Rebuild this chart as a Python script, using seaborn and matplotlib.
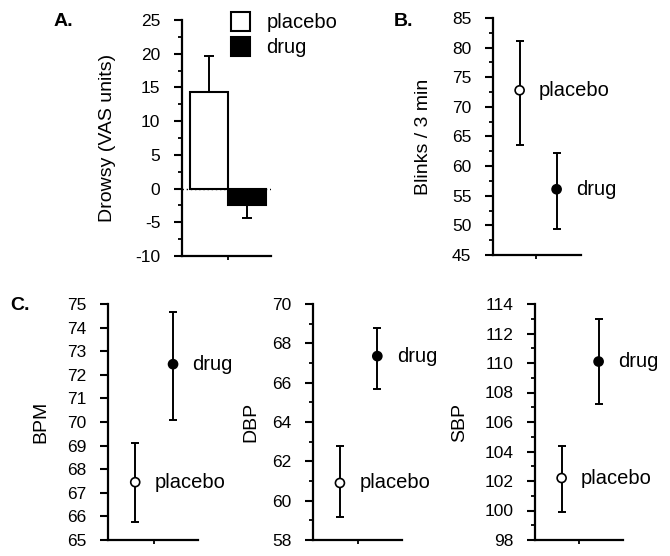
import numpy as np
import pandas as pd
import matplotlib
matplotlib.use('Agg')
import matplotlib.pyplot as plt
import seaborn as sns
from matplotlib.ticker import MultipleLocator

# data
groups = ['placebo', 'drug']
drowsy_mean = [14.3, -2.5]
drowsy_err_up = [5.4, 0.0]
drowsy_err_down = [0.0, 1.9]

blinks_mean = [72.8, 56.1]
blinks_lo = [63.6, 49.4]
blinks_hi = [81.2, 62.2]

bpm_mean = [67.45, 72.45]
bpm_lo = [65.75, 70.1]
bpm_hi = [69.1, 74.65]

dbp_mean = [60.9, 67.35]
dbp_lo = [59.15, 65.7]
dbp_hi = [62.8, 68.8]

sbp_mean = [102.2, 110.1]
sbp_lo = [99.9, 107.2]
sbp_hi = [104.4, 113.0]

W, H = 670, 556
sns.set_style('ticks')
plt.rcParams['font.family'] = ['Liberation Sans', 'DejaVu Sans']
plt.rcParams['axes.linewidth'] = 1.6
plt.rcParams['axes.edgecolor'] = 'black'
plt.rcParams['text.color'] = 'black'
plt.rcParams['axes.labelcolor'] = 'black'
plt.rcParams['xtick.color'] = 'black'
plt.rcParams['ytick.color'] = 'black'
plt.rcParams['axes.unicode_minus'] = False

fig = plt.figure(figsize=(W / 100, H / 100), dpi=100)


def px_axes(left, right, top, bottom):
    # pixel box -> figure fraction
    return fig.add_axes([left / W, 1 - bottom / H, (right - left) / W, (bottom - top) / H])


def style_axis(ax, ylim, major, minor, xtick, label_x, ylabel):
    ax.set_ylim(*ylim)
    ax.yaxis.set_major_locator(MultipleLocator(major))
    if minor:
        ax.yaxis.set_minor_locator(MultipleLocator(minor))
    ax.set_xticks([xtick])
    ax.set_xticklabels([''])
    sns.despine(ax=ax)
    ax.tick_params(axis='y', which='major', length=5.5, width=1.5, labelsize=12.5, pad=10)
    ax.tick_params(axis='y', which='minor', length=3, width=1.3)
    ax.tick_params(axis='x', length=3, width=1.3)
    ax.set_xlabel('')
    ax.set_ylabel(ylabel, fontsize=14, va='center')
    l, _, w, _ = ax.get_position().bounds
    ax.yaxis.set_label_coords((label_x / W - l) / w, 0.5)


def point_panel(ax, mean, lo, hi):
    df = pd.DataFrame({'x': [0, 1], 'y': mean, 'group': groups})
    yerr = [np.array(mean) - np.array(lo), np.array(hi) - np.array(mean)]
    ax.errorbar(df['x'], df['y'], yerr=yerr, fmt='none', ecolor='black',
                elinewidth=1.4, capsize=3.2, capthick=1.4, zorder=2)
    sns.scatterplot(data=df, x='x', y='y', hue='group', palette=['white', 'black'],
                    edgecolor='black', linewidth=1.2, s=42, legend=False, ax=ax, zorder=3)
    for i, g in enumerate(groups):
        ax.annotate(g, (df['x'][i], df['y'][i]), xytext=(14, 0), textcoords='offset points',
                    va='center', ha='left', fontsize=14.5)
    ax.set_xlim(-0.72, 1.66)


# A. drowsiness bars
axA = px_axes(182, 271, 20, 256)
dfA = pd.DataFrame({'group': groups, 'value': drowsy_mean})
sns.barplot(data=dfA, x='group', y='value', hue='group', palette=['white', 'black'],
            edgecolor='black', linewidth=1.5, width=1, legend=True, ax=axA, zorder=2)
axA.errorbar([0, 1], drowsy_mean, yerr=[drowsy_err_down, drowsy_err_up], fmt='none',
             ecolor='black', elinewidth=1.4, capsize=3.5, capthick=1.4, zorder=1)
axA.axhline(0, color='black', lw=1, ls=(0, (1, 2)), zorder=1)
axA.set_xlim(-0.71, 1.63)
style_axis(axA, (-10, 25), 5, 2.5, 0.5, 108, 'Drowsy (VAS units)')
sns.move_legend(axA, 'upper left', bbox_to_anchor=(231 / W, 1 - 12 / H),
                bbox_transform=fig.transFigure, frameon=False, title=None,
                fontsize=14.5, handlelength=0.95, handleheight=1.05,
                handletextpad=0.8, labelspacing=0.25, borderpad=0, borderaxespad=0)

# B. blinks
axB = px_axes(493, 581, 18, 255)
point_panel(axB, blinks_mean, blinks_lo, blinks_hi)
style_axis(axB, (45, 85), 5, 2.5, 0.45, 424, 'Blinks / 3 min')

# C. cardiovascular
axC1 = px_axes(108, 198, 304, 540)
point_panel(axC1, bpm_mean, bpm_lo, bpm_hi)
style_axis(axC1, (65, 75), 1, None, 0.49, 41, 'BPM')

axC2 = px_axes(313, 402, 304, 540)
point_panel(axC2, dbp_mean, dbp_lo, dbp_hi)
style_axis(axC2, (58, 70), 2, 1, 0.47, 251, 'DBP')

axC3 = px_axes(535, 623, 304, 540)
point_panel(axC3, sbp_mean, sbp_lo, sbp_hi)
style_axis(axC3, (98, 114), 2, 1, 0.46, 460, 'SBP')

fig.text(63 / W, 1 - 22 / H, 'A.', fontsize=14, fontweight='bold', ha='center', va='center')
fig.text(403 / W, 1 - 22 / H, 'B.', fontsize=14, fontweight='bold', ha='center', va='center')
fig.text(20 / W, 1 - 305 / H, 'C.', fontsize=14, fontweight='bold', ha='center', va='center')

fig.savefig('out.png', dpi=100)
